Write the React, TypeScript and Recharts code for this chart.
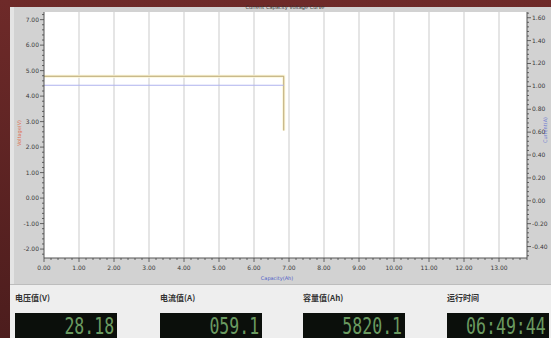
import { CartesianGrid, Line, LineChart, ReferenceLine, XAxis, YAxis } from 'recharts';

// capacity (Ah) vs voltage (V, left axis)
const voltageCapacity = [0, 6.85, 6.85];
const voltageValues = [4.78, 4.78, 2.65];
// capacity (Ah) vs current (A, right axis)
const currentCapacity = [0, 6.85];
const currentValues = [1.01, 1.01];

const xMajor = [0, 1, 2, 3, 4, 5, 6, 7, 8, 9, 10, 11, 12, 13];
const leftMajor = [7, 6, 5, 4, 3, 2, 1, 0, -1, -2];
const rightMajor = [1.6, 1.4, 1.2, 1.0, 0.8, 0.6, 0.4, 0.2, 0, -0.2, -0.4];

const readoutLabels = ['电压值(V)', '电流值(A)', '容量值(Ah)', '运行时间'];
const readoutValues = ['28.18', '059.1', '5820.1', '06:49:44'];

const voltageData = voltageCapacity.map((x, i) => ({ x, v: voltageValues[i] }));
const currentData = currentCapacity.map((x, i) => ({ x, c: currentValues[i] }));

// minor tick positions along each axis
function steps(from: number, to: number, step: number) {
  const out: number[] = [];
  for (let v = from; v <= to + 1e-9; v += step) out.push(Math.round(v * 1000) / 1000);
  return out;
}
const xTicks = steps(0, 13.8, 0.2);
const leftTicks = steps(-2.2, 7.2, 0.2);
const rightTicks = steps(-0.48, 1.64, 0.04);

const isMajor = (list: number[], v: number) => list.some((m) => Math.abs(m - v) < 1e-6);
const TICK_FONT = { fontSize: 6, fill: '#3a3a3a', fontFamily: 'DejaVu Sans' };

function XTick(props: any) {
  const { x, y, payload } = props;
  const major = isMajor(xMajor, payload.value);
  return (
    <g>
      <line x1={x} x2={x} y1={y} y2={y + (major ? 4 : 2)} stroke="#444" strokeWidth={0.8} />
      {major && (
        <text x={x} y={y + 12} textAnchor="middle" {...TICK_FONT}>
          {payload.value.toFixed(2)}
        </text>
      )}
    </g>
  );
}

function LeftTick(props: any) {
  const { x, y, payload } = props;
  const major = isMajor(leftMajor, payload.value);
  return (
    <g>
      <line x1={x} x2={x - (major ? 4 : 2)} y1={y} y2={y} stroke="#444" strokeWidth={0.8} />
      {major && (
        <text x={x - 5} y={y + 2} textAnchor="end" {...TICK_FONT}>
          {payload.value.toFixed(2)}
        </text>
      )}
    </g>
  );
}

function RightTick(props: any) {
  const { x, y, payload } = props;
  const major = isMajor(rightMajor, payload.value);
  return (
    <g>
      <line x1={x} x2={x + (major ? 4 : 2)} y1={y} y2={y} stroke="#444" strokeWidth={0.8} />
      {major && (
        <text x={x + 5} y={y + 2} textAnchor="start" {...TICK_FONT}>
          {payload.value.toFixed(2)}
        </text>
      )}
    </g>
  );
}

const readoutX = [15, 160, 303, 447];

export default function App() {
  return (
    <div
      style={{
        position: 'fixed',
        left: 0,
        top: 0,
        width: 551,
        height: 338,
        overflow: 'hidden',
        background: 'linear-gradient(180deg, #6e2a29 0%, #4c1d1d 100%)',
        fontFamily: '"Noto Sans CJK SC", "DejaVu Sans", sans-serif',
      }}
    >
      <div style={{ position: 'absolute', left: 10, top: 7, width: 541, height: 278, background: '#d2d2d2' }} />
      <div style={{ position: 'absolute', left: 10, top: 7, width: 4, height: 278, background: '#e4e4e4' }} />
      <div style={{ position: 'absolute', left: 44, top: 12, width: 483, height: 246, background: '#ffffff' }} />
      <div style={{ position: 'absolute', left: 0, top: 0 }}>
        <LineChart width={551} height={285} margin={{ top: 12, right: 0, left: 14, bottom: 5 }}>
          <CartesianGrid fill="#ffffff" horizontal={false} vertical={false} />
          {xMajor.slice(1).map((v) => (
            <ReferenceLine key={v} x={v} yAxisId="left" stroke="#dddddd" strokeWidth={1.5} />
          ))}
          <XAxis
            dataKey="x"
            type="number"
            domain={[0, 13.8]}
            allowDataOverflow
            ticks={xTicks}
            interval={0}
            height={22}
            tickSize={0}
            tickMargin={0}
            tickLine={false}
            axisLine={{ stroke: '#555', strokeWidth: 1 }}
            tick={<XTick />}
          />
          <YAxis
            yAxisId="left"
            type="number"
            domain={[-2.35, 7.3]}
            allowDataOverflow
            ticks={leftTicks}
            interval={0}
            width={30}
            tickSize={0}
            tickMargin={0}
            tickLine={false}
            axisLine={{ stroke: '#555', strokeWidth: 1 }}
            tick={<LeftTick />}
          />
          <YAxis
            yAxisId="right"
            orientation="right"
            type="number"
            domain={[-0.5, 1.65]}
            allowDataOverflow
            ticks={rightTicks}
            interval={0}
            width={24}
            tickSize={0}
            tickMargin={0}
            tickLine={false}
            axisLine={{ stroke: '#555', strokeWidth: 1 }}
            tick={<RightTick />}
          />
          <Line
            yAxisId="left"
            data={voltageData}
            dataKey="v"
            type="linear"
            stroke="#fcf6d6"
            strokeWidth={3}
            dot={false}
            isAnimationActive={false}
          />
          <Line
            yAxisId="left"
            data={voltageData}
            dataKey="v"
            type="linear"
            stroke="#b8a474"
            strokeWidth={1}
            dot={false}
            isAnimationActive={false}
          />
          <Line
            yAxisId="right"
            data={currentData}
            dataKey="c"
            type="linear"
            stroke="#aeb2ee"
            strokeWidth={1.2}
            dot={false}
            isAnimationActive={false}
          />
          <text x={285} y={9} textAnchor="middle" fontSize={5} fill="#333" fontFamily="DejaVu Sans">
            Current Capacity Voltage Curve
          </text>
          <text
            x={21}
            y={133}
            textAnchor="middle"
            fontSize={5}
            fill="#e07050"
            fontFamily="DejaVu Sans"
            transform="rotate(-90 21 133)"
          >
            Voltage(V)
          </text>
          <text
            x={547}
            y={130}
            textAnchor="middle"
            fontSize={5}
            fill="#6a78d0"
            fontFamily="DejaVu Sans"
            transform="rotate(-90 547 130)"
          >
            Current(A)
          </text>
          <text x={277} y={280} textAnchor="middle" fontSize={5} fill="#4a5ac8" fontFamily="DejaVu Sans">
            Capacity(Ah)
          </text>
        </LineChart>
      </div>
      <div style={{ position: 'absolute', left: 10, top: 284, width: 541, height: 1, background: '#bdbdbd' }} />
      <div style={{ position: 'absolute', left: 10, top: 285, width: 541, height: 53, background: '#eeeeee' }} />
      {readoutLabels.map((label, i) => (
        <div key={label}>
          <div
            style={{
              position: 'absolute',
              left: readoutX[i],
              top: 292,
              fontSize: 8,
              fontWeight: 700,
              color: '#333',
              whiteSpace: 'nowrap',
            }}
          >
            {label}
          </div>
          <div
            style={{
              position: 'absolute',
              left: readoutX[i],
              top: 313,
              width: 102,
              height: 27,
              background: '#0b0f0b',
              overflow: 'hidden',
            }}
          >
            <div
              style={{
                position: 'absolute',
                right: 3,
                top: 0,
                color: '#6a9a60',
                fontFamily: '"DejaVu Sans Mono", monospace',
                fontSize: 23,
                lineHeight: '27px',
                whiteSpace: 'nowrap',
                transform: 'scaleX(0.72)',
                transformOrigin: 'right center',
              }}
            >
              {readoutValues[i]}
            </div>
          </div>
        </div>
      ))}
    </div>
  );
}
